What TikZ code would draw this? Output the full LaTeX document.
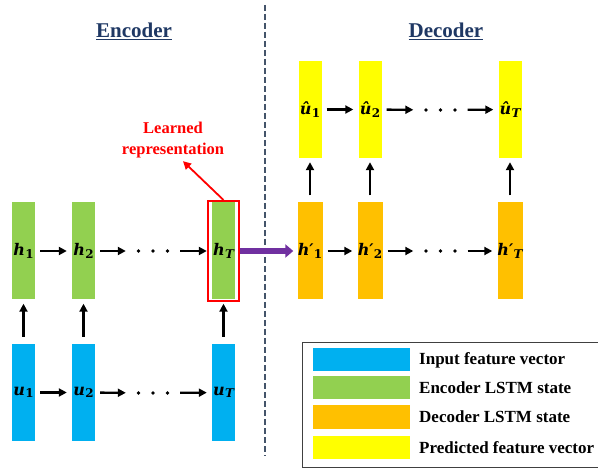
\documentclass[tikz,border=0pt]{standalone}
\usepackage{fontspec}
\setmainfont{Liberation Serif}
\newfontfamily\lblfont{DejaVu Serif}
\usetikzlibrary{arrows.meta,fit,calc}
\definecolor{cblue}{HTML}{00B0F0}
\definecolor{cgreen}{HTML}{92D050}
\definecolor{corange}{HTML}{FFC000}
\definecolor{cyellow}{HTML}{FFFF00}
\definecolor{cpurple}{HTML}{7030A0}
\definecolor{cdash}{HTML}{44546A}
\definecolor{ctitle}{HTML}{1F3864}
\definecolor{cframe}{HTML}{404040}
\newcommand\cellname[2]{{\lblfont\fontsize{16}{18}\selectfont\bfseries\itshape #1}\kern0.3pt\lower2.6pt\hbox{\lblfont\fontsize{12}{12}\selectfont\bfseries #2}}
\begin{document}
\begin{tikzpicture}[x=1pt,y=-1pt,
  cell/.style={inner sep=0pt, minimum height=97pt, label={[inner sep=0pt]center:#1}},
  inp/.style={cell={#1}, fill=cblue, minimum width=23pt},
  enc/.style={cell={#1}, fill=cgreen, minimum width=23pt},
  dec/.style={cell={#1}, fill=corange, minimum width=25pt},
  pred/.style={cell={#1}, fill=cyellow, minimum width=23pt},
  dotsn/.style={inner sep=0pt, minimum width=44pt, minimum height=6pt},
  arr/.style={line width=2.3pt, -{Triangle[length=8pt,width=8pt]}, shorten <=5pt, shorten >=5pt},
  uparr/.style={line width=2.3pt, -{Triangle[length=8pt,width=8pt]}, shorten <=7pt, shorten >=4pt},
  title/.style={font=\fontsize{21}{25}\selectfont\bfseries, text=ctitle, inner sep=0pt},
  legtext/.style={font=\fontsize{17}{20}\selectfont\bfseries, anchor=west, inner sep=0pt},
  swatch/.style={inner sep=0pt, minimum width=97pt, minimum height=23pt},
]
\useasboundingbox (0,0) rectangle (598,468);

% divider
\draw[cdash, line width=2.7pt, dash pattern=on 6pt off 3pt] (265,5) -- (265,456);

% titles
\node[title] (enctitle) at (134,31) {\underline{Encoder}};
\node[title] (dectitle) at (446,31) {\underline{Decoder}};

% encoder
\node[enc={\cellname{h}{1}}] (h1) at (23.5,251) {};
\node[enc={\cellname{h}{2}}] (h2) at (83.5,251) {};
\node[enc={\cellname{h}{\itshape T}}] (hT) at (223.5,251) {};
\node[dotsn] (hd) at (153,251) {};
\node[inp={\cellname{u}{1}}] (u1) at (23.5,392.5) {};
\node[inp={\cellname{u}{2}}] (u2) at (83.5,392.5) {};
\node[inp={\cellname{u}{\itshape T}}] (uT) at (223.5,392.5) {};
\node[dotsn] (ud) at (153,393) {};

% decoder
\node[pred={\cellname{û}{1}}] (p1) at (310,109.5) {};
\node[pred={\cellname{û}{2}}] (p2) at (370,109.5) {};
\node[pred={\cellname{û}{\itshape T}}] (pT) at (510,109.5) {};
\node[dotsn] (pd) at (440.5,110) {};
\node[dec={\cellname{h′}{1}}] (d1) at (310,251) {};
\node[dec={\cellname{h′}{2}}] (d2) at (370,251) {};
\node[dec={\cellname{h′}{\itshape T}}] (dT) at (510,251) {};
\node[dotsn] (dd) at (440.5,251) {};

% dots
\foreach \n in {hd,ud,pd,dd}{
  \foreach \dx in {-14.5,0,14.5}{
    \fill ($(\n.center)+(\dx,0)$) circle (1.9pt);
  }
}

% horizontal arrows
\foreach \a/\b/\c/\d in {h1/h2/hd/hT, u1/u2/ud/uT, p1/p2/pd/pT, d1/d2/dd/dT}{
  \draw[arr] (\a) -- (\b);
  \draw[arr] (\b) -- (\c);
  \draw[arr] (\c) -- (\d);
}

% vertical arrows
\foreach \a/\b in {u1/h1, u2/h2, uT/hT, d1/p1, d2/p2, dT/pT}{
  \draw[uparr] (\a.north) -- (\b.south);
}

% learned representation
\node[draw=red, line width=1.6pt, fit=(hT), inner xsep=4pt, inner ysep=1.5pt] (rep) {};
\node[font=\fontsize{16.5}{21}\selectfont\bfseries, text=red, align=center, inner sep=0pt] (lbl) at (173,140.5) {Learned\\representation};
\coordinate (lbltip) at ($(lbl.south)+(10,2.5)$);
\draw[red, line width=1.8pt, -{Triangle[length=8pt,width=8pt]}] (rep.north) -- (lbltip);

% transfer arrow
\draw[cpurple, line width=6pt, -{Triangle[length=8pt,width=13pt]}, shorten >=4pt] (rep.east) -- (d1.west);

% legend
\node[draw=cframe, line width=1pt, inner sep=0pt, minimum width=298pt, minimum height=125pt] (leg) at (451,404.5) {};
\node[swatch, fill=cblue] (s1) at (361.5,359.5) {};
\node[swatch, fill=cgreen] (s2) at (361.5,387.5) {};
\node[swatch, fill=corange, minimum height=24pt] (s3) at (361.5,417) {};
\node[swatch, fill=cyellow] (s4) at (361.5,447.5) {};
\node[legtext] (t1) at (419,360) {Input feature vector};
\node[legtext] (t2) at (419,388) {Encoder LSTM state};
\node[legtext] (t3) at (419,417) {Decoder LSTM state};
\node[legtext] (t4) at (419,447.5) {Predicted feature vector};
\end{tikzpicture}
\end{document}
